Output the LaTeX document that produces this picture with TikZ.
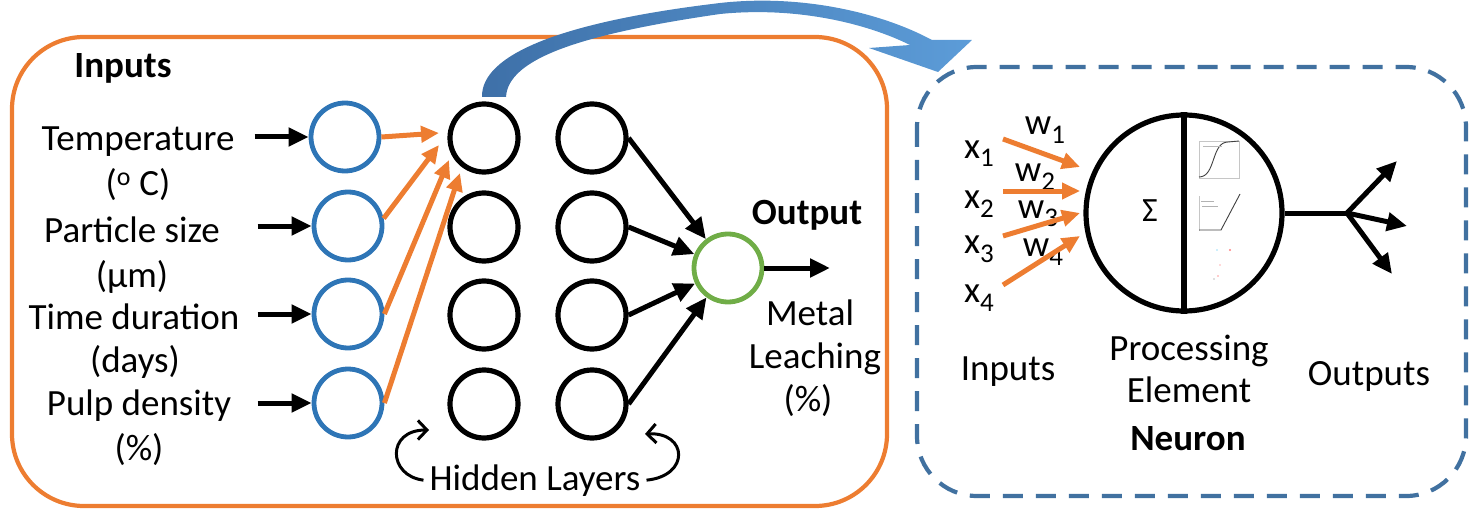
\documentclass[tikz,border=0pt]{standalone}
\usepackage{fontspec}
\setmainfont{Carlito}
\usetikzlibrary{arrows.meta,calc}
\definecolor{orng}{RGB}{237,125,49}
\definecolor{inblue}{RGB}{46,117,182}
\definecolor{grn}{RGB}{112,173,71}
\definecolor{dashblue}{RGB}{65,113,160}
\definecolor{arrL}{RGB}{62,112,168}
\definecolor{arrR}{RGB}{92,156,216}
\tikzset{
  txt/.style={font=\fontsize{37}{41}\selectfont, inner sep=0pt, anchor=base},
  btxt/.style={txt, font=\fontsize{37}{41}\selectfont\bfseries},
  incirc/.style={circle, draw=inblue, line width=4.8pt, minimum size=68pt, inner sep=0pt},
  hidcirc/.style={circle, draw=black, line width=5.2pt, minimum size=68pt, inner sep=0pt},
  outcirc/.style={circle, draw=grn, line width=4.8pt, minimum size=68pt, inner sep=0pt},
  blkarrow/.style={line width=5pt, -{Triangle[length=20pt,width=18pt]}},
  blkarrowB/.style={line width=5pt, -{Triangle[length=21pt,width=19pt]}},
  orarrow/.style={draw=orng, line width=5pt, -{Triangle[length=18pt,width=16pt]}, color=orng},
  curvarrow/.style={line width=3pt, -{Straight Barb[length=9pt,width=19pt]}},
}
\newcommand{\sbs}[1]{\raisebox{-9pt}{\fontsize{27}{27}\selectfont #1}}
\begin{document}
\begin{tikzpicture}[x=1pt,y=-1pt]
\useasboundingbox (0,0) rectangle (1470,524);
% frames
\draw[orng, line width=4.2pt, rounded corners=72pt] (12,37) rectangle (887,506);
\draw[dashblue, line width=4.2pt, dash pattern=on 20pt off 13pt, rounded corners=60pt] (917,67) rectangle (1466,496);

% input labels
\node[btxt] (inlab) at (123,78) {Inputs};
\node[txt] (l1a) at (138,150) {Temperature};
\node[txt] (l1b) at (138,195) {(\textsuperscript{o} C)};
\node[txt] (l2a) at (132,242) {Particle size};
\node[txt] (l2b) at (132,287) {(µm)};
\node[txt] (l3a) at (134,329) {Time duration};
\node[txt] (l3b) at (135,372) {(days)};
\node[txt] (l4a) at (139,415) {Pulp density};
\node[txt] (l4b) at (139,460) {(\%)};

% circles
\node[incirc] (i1) at (345,137) {};
\node[incirc] (i2) at (348,226) {};
\node[incirc] (i3) at (348,314) {};
\node[incirc] (i4) at (348,403) {};
\node[hidcirc] (h11) at (484,138) {};
\node[hidcirc] (h12) at (484,227) {};
\node[hidcirc] (h13) at (484,315) {};
\node[hidcirc] (h14) at (484,404) {};
\node[hidcirc] (h21) at (592,138) {};
\node[hidcirc] (h22) at (592,227) {};
\node[hidcirc] (h23) at (592,315) {};
\node[hidcirc] (h24) at (592,404) {};
\node[outcirc] (out) at (728,268) {};

% input arrows
\foreach \i in {1,2,3,4}{
  \draw[blkarrow] ([xshift=-54pt]i\i.west) -- (i\i.west);
}
% orange arrows to hidden
\coordinate (t1) at (439,133);
\coordinate (t2) at (439,145);
\coordinate (t3) at (449,160);
\coordinate (t4) at (460,173);
\draw[orarrow] (i1.east) -- (t1);
\draw[orarrow] (i2.12) -- (t2);
\draw[orarrow] (i3.east) -- (t3);
\draw[orarrow] (i4.east) -- (t4);

% hidden to output
\foreach \i in {1,2,3,4}{
  \draw[blkarrowB] (h2\i.east) -- (out);
}
\coordinate (oend) at (830,268);
\draw[blkarrow] (out.east) -- (oend);

\node[btxt] (outlab) at (807,224) {Output};
\node[txt] (m1) at (810,325) {Metal};
\node[txt] (m2) at (815,368) {Leaching};
\node[txt] (m3) at (808,411) {(\%)};

% hidden layers
\node[txt] (hl) at (535,490) {Hidden Layers};
\coordinate (hlA) at (429,430);
\coordinate (hlB) at (645,434);
\draw[curvarrow] ([xshift=-6pt]hl.west) .. controls (388,476) and (386,430) .. (hlA);
\draw[curvarrow] ([xshift=6pt]hl.east) .. controls (690,476) and (688,432) .. (hlB);

% big curved arrow
\shade[left color=arrL, right color=arrR]
  (506,97) .. controls (508,60) and (575,35) .. (720,14)
  .. controls (800,6) and (870,25) .. (910,45)
  -- (869,48) -- (938,72) -- (972,40) -- (932,40)
  .. controls (880,12) and (800,-6) .. (720,3)
  .. controls (560,22) and (481,55) .. (482,97) -- cycle;

% neuron
\node[circle, draw=black, line width=5.2pt, minimum size=196pt, inner sep=0pt] (nc) at (1184,213) {};
\draw[line width=5.2pt] (nc.north) -- (nc.south);
\node[inner sep=0pt, font=\fontsize{34}{34}\selectfont] (sig) at (1150,211) {Σ};

% tiny plots
\draw[gray!45, line width=0.5pt] (1199,141) rectangle (1239,178);
\draw[black!75, line width=0.9pt] (1199,177) .. controls (1216,177) and (1211,142) .. (1228,142) -- (1239,141);
\draw[gray!55, line width=0.7pt] (1203,146) -- (1222,146);
\draw[gray!45, line width=0.5pt] (1199,196) -- (1199,231);
\draw[black!75, line width=0.9pt] (1199,230) -- (1221,230) -- (1240,194);
\draw[gray!60, line width=0.7pt] (1201,201) -- (1214,201) (1202,206) -- (1218,206);
\fill[cyan!40] (1217,250) circle (0.9pt);
\fill[red!50] (1230,250) circle (1.1pt);
\fill[red!30] (1220,265) circle (0.8pt);
\fill[red!40] (1218,276) circle (0.8pt);
\fill[gray!50] (1214,279) circle (0.8pt);

% neuron inputs
\node[txt] (x1) at (979,158) {x\sbs{1}};
\node[txt] (x2) at (979,208) {x\sbs{2}};
\node[txt] (x3) at (979,253) {x\sbs{3}};
\node[txt] (x4) at (979,302) {x\sbs{4}};
\node[txt] (w1) at (1045,135) {w\sbs{1}};
\node[txt] (w2) at (1035,182) {w\sbs{2}};
\node[txt] (w3) at (1038,218) {w\sbs{3}};
\node[txt] (w4) at (1043,256) {w\sbs{4}};
\coordinate (a1) at (1003,139); \coordinate (b1) at (1080,167);
\coordinate (a2) at (1003,191); \coordinate (b2) at (1080,191);
\coordinate (a3) at (1003,236); \coordinate (b3) at (1080,213);
\coordinate (a4) at (1003,285); \coordinate (b4) at (1080,236);
\foreach \i in {1,2,3,4}{ \draw[orarrow] (a\i) -- (b\i); }

% neuron outputs
\coordinate (jn) at (1347,213);
\coordinate (o1) at (1397,161);
\coordinate (o2) at (1407,226);
\coordinate (o3) at (1392,274);
\draw[line width=5pt] (nc.east) -- (jn);
\draw[blkarrow] (jn) -- (o1);
\draw[blkarrow] (jn) -- (o2);
\draw[blkarrow] (jn) -- (o3);

\node[txt] (rin) at (1008,380) {Inputs};
\node[txt] (pe1) at (1189,360) {Processing};
\node[txt] (pe2) at (1189,402) {Element};
\node[txt] (rout) at (1369,385) {Outputs};
\node[btxt] (neu) at (1188,450) {Neuron};
\end{tikzpicture}
\end{document}
